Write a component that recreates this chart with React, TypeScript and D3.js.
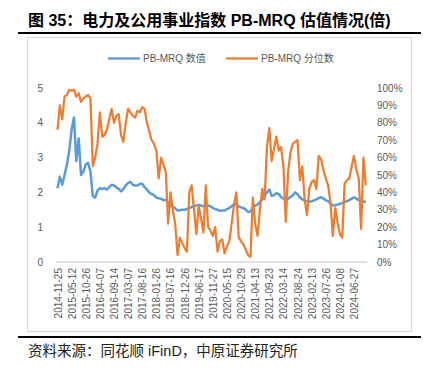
import React, { useEffect, useRef } from "react";
import { select, scaleLinear, line, range } from "d3";

// x labels, one every 6 samples
const dateLabels = [
  "2014-11-25", "2015-05-12", "2015-10-26", "2016-04-07", "2016-09-14", "2017-03-07",
  "2017-08-16", "2018-01-26", "2018-07-16", "2018-12-26", "2019-06-17", "2019-11-27",
  "2020-05-15", "2020-10-29", "2021-04-13", "2021-09-23", "2022-03-14", "2022-08-24",
  "2023-02-13", "2023-07-26", "2024-01-08", "2024-06-27"
];
const labelStep = 6;

// PB-MRQ value (left axis)
const pbValue = [
  2.12, 2.45, 2.22, 2.5, 2.8, 3.2, 3.8, 4.15, 2.9, 3.55,
  2.5, 2.6, 2.8, 2.85, 2.6, 1.9, 1.85, 2.05, 2.12, 2.1,
  2.12, 2.08, 2.15, 2.22, 2.2, 2.15, 2.1, 2.03, 2.1, 2.2,
  2.27, 2.3, 2.22, 2.2, 2.2, 2.25, 2.25, 2.15, 2.08, 2.0,
  1.95, 1.92, 1.85, 1.83, 1.82, 1.78, 1.78, 1.72, 1.62, 1.58,
  1.55, 1.48, 1.49, 1.5, 1.5, 1.52, 1.55, 1.58, 1.6, 1.62,
  1.64, 1.62, 1.6, 1.62, 1.63, 1.6, 1.55, 1.52, 1.5, 1.47,
  1.48, 1.48, 1.52, 1.55, 1.6, 1.66, 1.65, 1.6, 1.57, 1.55,
  1.5, 1.44, 1.45, 1.57, 1.62, 1.65, 1.72, 1.8, 1.9, 2.0,
  2.08, 1.9, 1.92, 1.98, 1.95, 1.87, 1.82, 1.77, 1.82, 1.87,
  1.92, 2.0, 1.95, 1.85, 1.8, 1.77, 1.75, 1.74, 1.74, 1.77,
  1.8, 1.84, 1.86, 1.82, 1.78, 1.75, 1.68, 1.62, 1.63, 1.65,
  1.67, 1.7, 1.72, 1.75, 1.78, 1.82, 1.86, 1.82, 1.78, 1.75,
  1.74, 1.72
];

// PB-MRQ percentile, % (right axis)
const pbPercentile = [
  76, 90, 82, 95, 96, 99, 98.5, 99, 95, 97,
  92, 94, 95, 96, 94, 55, 60, 68, 86, 72,
  73, 76, 82, 88, 80, 84, 85, 73, 69, 80,
  88, 86, 84, 83, 87, 86, 89, 88, 80, 75,
  70, 68, 64, 48, 60, 56, 52, 22, 40, 30,
  22, 4, 14, 11, 8, 6, 40, 44, 30, 16,
  32, 25, 17, 44, 20, 18, 15, 20, 6, 12,
  13, 5, 9, 12, 22, 33, 40, 14, 12, 10,
  7, 4, 3, 37, 22, 15, 30, 42, 36, 66,
  77, 58, 65, 72, 64, 66, 55, 23, 52, 63,
  68, 69, 70, 47, 55, 36, 27, 42, 46, 47,
  42, 61, 59, 53, 48, 44, 34, 15, 31, 23,
  16, 14, 45, 47, 48, 55, 61, 53, 48, 19,
  60, 44
];

const leftTicks = [0, 1, 2, 3, 4, 5];
const rightTicks = [0, 10, 20, 30, 40, 50, 60, 70, 80, 90, 100];

const BLUE = "#5B9BD5";
const ORANGE = "#ED7D31";
const GRAY = "#595959";
const FONT = "'Liberation Sans', Arial, 'Noto Sans CJK SC', sans-serif";

function App() {
  const svgRef = useRef(null);

  useEffect(() => {
    document.body.style.margin = "0";
    const svg = select(svgRef.current);
    svg.selectAll("*").remove();

    const x = scaleLinear().domain([0, pbValue.length - 1]).range([57.5, 365.8]);
    const yL = scaleLinear().domain([0, 5]).range([262, 88]);
    const yR = scaleLinear().domain([0, 100]).range([262, 88]);

    // title + rules
    svg.append("text")
      .attr("x", 28).attr("y", 26)
      .attr("font-family", FONT).attr("font-size", 16).attr("font-weight", "bold")
      .attr("fill", "#000")
      .text("图 35：电力及公用事业指数 PB-MRQ 估值情况(倍)");
    svg.append("line").attr("x1", 18).attr("x2", 421).attr("y1", 33).attr("y2", 33)
      .attr("stroke", "#000").attr("stroke-width", 2);
    svg.append("line").attr("x1", 18).attr("x2", 421).attr("y1", 337).attr("y2", 337)
      .attr("stroke", "#000").attr("stroke-width", 2);
    svg.append("text")
      .attr("x", 28).attr("y", 356)
      .attr("font-family", FONT).attr("font-size", 14.5).attr("fill", "#222")
      .text("资料来源：同花顺 iFinD，中原证券研究所");

    // chart frame
    svg.append("rect").attr("x", 27.5).attr("y", 37.5).attr("width", 384).attr("height", 294)
      .attr("fill", "#fff").attr("stroke", "#D9D9D9").attr("stroke-width", 1);

    // legend
    const legend = [
      { label: "PB-MRQ 数值", color: BLUE, x: 108 },
      { label: "PB-MRQ 分位数", color: ORANGE, x: 226 }
    ];
    const lg = svg.append("g").selectAll("g").data(legend).join("g");
    lg.append("line")
      .attr("x1", (d) => d.x).attr("x2", (d) => d.x + 32)
      .attr("y1", 58.5).attr("y2", 58.5)
      .attr("stroke", (d) => d.color).attr("stroke-width", 2.25);
    lg.append("text")
      .attr("x", (d) => d.x + 35).attr("y", 62)
      .attr("font-family", FONT).attr("font-size", 10).attr("fill", GRAY)
      .text((d) => d.label);

    // axes
    svg.append("line").attr("x1", 56).attr("x2", 367).attr("y1", yL(0)).attr("y2", yL(0))
      .attr("stroke", "#D9D9D9").attr("stroke-width", 1.5);

    svg.append("g").selectAll("text").data(leftTicks).join("text")
      .attr("x", 43).attr("y", (d) => yL(d)).attr("dy", "0.35em")
      .attr("text-anchor", "end")
      .attr("font-family", FONT).attr("font-size", 10).attr("fill", GRAY)
      .text((d) => d);

    svg.append("g").selectAll("text").data(rightTicks).join("text")
      .attr("x", 377).attr("y", (d) => yR(d)).attr("dy", "0.35em")
      .attr("font-family", FONT).attr("font-size", 10).attr("fill", GRAY)
      .text((d) => d + "%");

    svg.append("g").selectAll("text").data(dateLabels).join("text")
      .attr("transform", (d, i) => `translate(${x(i * labelStep) + 0.5},268) rotate(-90)`)
      .attr("dy", "0.35em")
      .attr("text-anchor", "end")
      .attr("font-family", FONT).attr("font-size", 10).attr("fill", GRAY)
      .text((d) => d);

    // series
    const idx = range(pbValue.length);
    const blueLine = line().x((i) => x(i)).y((i) => yL(pbValue[i]));
    const orangeLine = line().x((i) => x(i)).y((i) => yR(pbPercentile[i]));

    svg.append("path").datum(idx).attr("d", blueLine)
      .attr("fill", "none").attr("stroke", BLUE).attr("stroke-width", 2.5)
      .attr("stroke-linejoin", "round");
    svg.append("path").datum(idx).attr("d", orangeLine)
      .attr("fill", "none").attr("stroke", ORANGE).attr("stroke-width", 2.25)
      .attr("stroke-linejoin", "round");
  }, []);

  return <svg ref={svgRef} width={428} height={372} style={{ display: "block" }} />;
}

export default App;
